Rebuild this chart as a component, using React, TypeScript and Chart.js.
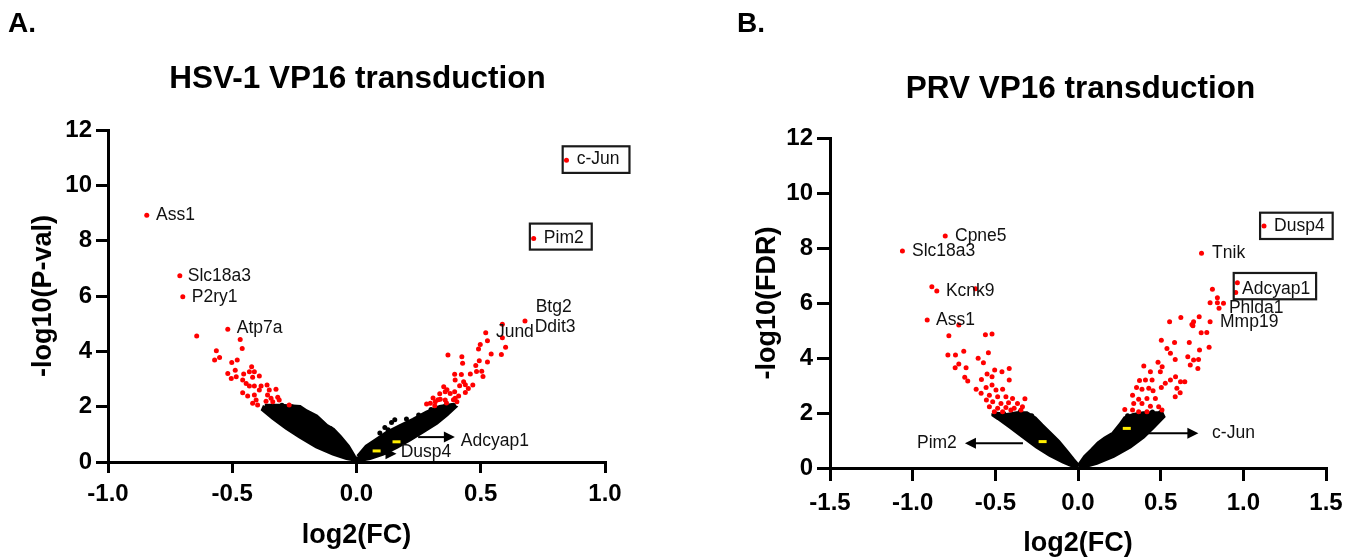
import React, { useEffect, useRef } from "react";
import { Chart, registerables } from "chart.js";
Chart.register(...registerables);

type Pt = [number, number];

// ================= Panel A : HSV-1 VP16 transduction =================
const A_X_TICKS = [-1, -0.5, 0, 0.5, 1];
const A_X_TICK_LABELS = ["-1.0", "-0.5", "0.0", "0.5", "1.0"];
const A_Y_TICKS = [0, 2, 4, 6, 8, 10, 12];

const A_RED: Pt[] = [
  [-0.844, 8.92], [-0.711, 6.73], [-0.699, 5.97], [-0.643, 4.55], [-0.518, 4.8],
  [-0.468, 4.43], [-0.46, 4.1], [-0.564, 4.02], [-0.571, 3.69], [-0.551, 3.78],
  [-0.502, 3.6], [-0.48, 3.69], [-0.422, 3.44], [-0.488, 3.32], [-0.518, 3.2],
  [-0.504, 3.02], [-0.484, 3.08], [-0.454, 3.18], [-0.431, 3.26], [-0.411, 3.26],
  [-0.418, 3.06], [-0.391, 3.11], [-0.458, 2.96], [-0.444, 2.84], [-0.431, 2.75],
  [-0.411, 2.75], [-0.384, 2.75], [-0.36, 2.78], [-0.324, 2.63], [-0.351, 2.6],
  [-0.391, 2.6], [-0.458, 2.5], [-0.438, 2.39], [-0.411, 2.42], [-0.358, 2.42],
  [-0.344, 2.3], [-0.317, 2.34], [-0.404, 2.24], [-0.364, 2.2], [-0.337, 2.18],
  [-0.418, 2.12], [-0.398, 2.06], [-0.271, 2.06], [-0.311, 2.24],
  [0.845, 10.91], [0.713, 8.08], [0.678, 5.1], [0.587, 4.98], [0.52, 4.67],
  [0.527, 4.38], [0.587, 4.49], [0.6, 4.15], [0.583, 3.89], [0.542, 3.9],
  [0.498, 4.25], [0.491, 4.08], [0.368, 3.87], [0.424, 3.8], [0.427, 3.57],
  [0.494, 3.66], [0.527, 3.61], [0.48, 3.49], [0.504, 3.28], [0.458, 3.18],
  [0.395, 3.17], [0.422, 3.16], [0.397, 2.96], [0.431, 2.9], [0.438, 2.79],
  [0.468, 2.78], [0.45, 2.66], [0.415, 2.76], [0.351, 2.72], [0.357, 2.54],
  [0.377, 2.48], [0.395, 2.54], [0.411, 2.39], [0.438, 2.51], [0.397, 2.3],
  [0.337, 2.27], [0.317, 2.18], [0.357, 2.24], [0.404, 2.18], [0.297, 2.12],
  [0.308, 2.31], [0.328, 2.25], [0.282, 2.1], [0.315, 2.03], [0.335, 2.47],
  [0.362, 2.13], [0.39, 2.25], [0.364, 2.61], [0.483, 3.27], [0.509, 3.09],
];

const A_BLACK: Pt[] = [
  [-0.228, 1.95], [-0.168, 1.61], [-0.132, 1.26], [-0.105, 1.21], [-0.08, 0.92],
  [0.094, 1.05], [0.114, 1.25], [0.127, 1.17], [0.141, 1.43], [0.154, 1.53],
  [0.201, 1.55], [-0.35, 2.0], [-0.3, 2.05], [-0.26, 2.0], [0.25, 1.7],
  [0.3, 1.9], [0.36, 2.05], [0.39, 2.05],
];

const A_CLOUD_LEFT: Pt[] = [
  [-0.369, 2.03], [-0.309, 2.03], [-0.255, 2.01], [-0.228, 1.99], [-0.201, 1.83],
  [-0.161, 1.65], [-0.121, 1.31], [-0.094, 1.17], [-0.067, 0.92], [-0.034, 0.56],
  [-0.014, 0.26], [-0.003, 0.08], [-0.04, 0.14], [-0.094, 0.3], [-0.161, 0.56],
  [-0.228, 0.92], [-0.282, 1.23], [-0.336, 1.59], [-0.376, 1.89], [-0.369, 2.03],
];

const A_CLOUD_RIGHT: Pt[] = [
  [0.006, 0.2], [0.04, 0.56], [0.08, 0.8], [0.121, 1.05], [0.174, 1.29],
  [0.228, 1.53], [0.282, 1.79], [0.335, 1.99], [0.382, 2.06], [0.396, 1.99],
  [0.362, 1.71], [0.322, 1.41], [0.268, 1.11], [0.214, 0.81], [0.161, 0.54],
  [0.107, 0.3], [0.054, 0.14], [0.006, 0.06], [0.006, 0.2],
];

const A_YELLOW: Pt[] = [[0.081, 0.4], [0.161, 0.73]];

const A_LABEL_TEXT = ["Ass1", "Slc18a3", "P2ry1", "Atp7a", "c-Jun", "Pim2", "Btg2", "Ddit3", "Jund", "Adcyap1", "Dusp4"];
const A_LABEL_X = [-0.807, -0.679, -0.663, -0.482, 0.886, 0.754, 0.721, 0.717, 0.561, 0.42, 0.178];
const A_LABEL_Y = [8.93, 6.73, 5.97, 4.82, 10.93, 8.1, 5.61, 4.89, 4.68, 0.77, 0.37];

const A_ARROWS: { x0: number; x1: number; y: number }[] = [
  { x0: 0.248, x1: 0.396, y: 0.9 },
  { x0: 0.114, x1: 0.161, y: 0.3 },
];

// ================= Panel B : PRV VP16 transduction =================
const B_X_TICKS = [-1.5, -1, -0.5, 0, 0.5, 1, 1.5];
const B_X_TICK_LABELS = ["-1.5", "-1.0", "-0.5", "0.0", "0.5", "1.0", "1.5"];
const B_Y_TICKS = [0, 2, 4, 6, 8, 10, 12];

const B_RED: Pt[] = [
  [-0.803, 8.44], [-1.062, 7.89], [-0.884, 6.59], [-0.854, 6.44], [-0.62, 6.52],
  [-0.912, 5.38], [-0.721, 5.2], [-0.781, 4.81], [-0.56, 4.85], [-0.52, 4.87],
  [-0.787, 4.11], [-0.741, 4.11], [-0.691, 4.25], [-0.542, 4.19], [-0.604, 3.99],
  [-0.572, 3.83], [-0.721, 3.78], [-0.743, 3.65], [-0.677, 3.65], [-0.504, 3.56],
  [-0.46, 3.5], [-0.416, 3.62], [-0.55, 3.42], [-0.52, 3.32], [-0.685, 3.3],
  [-0.667, 3.16], [-0.584, 3.22], [-0.416, 3.2], [-0.52, 3.02], [-0.556, 2.93],
  [-0.616, 2.86], [-0.496, 2.84], [-0.456, 2.86], [-0.586, 2.72], [-0.536, 2.65],
  [-0.486, 2.59], [-0.436, 2.59], [-0.396, 2.53], [-0.321, 2.52], [-0.554, 2.47],
  [-0.516, 2.41], [-0.466, 2.35], [-0.42, 2.37], [-0.366, 2.35], [-0.536, 2.23],
  [-0.486, 2.17], [-0.436, 2.2], [-0.386, 2.17], [-0.336, 2.23], [-0.506, 2.05],
  [-0.456, 2.05], [-0.406, 2.11], [-0.345, 2.11],
  [1.125, 8.8], [0.747, 7.81], [0.964, 6.74], [0.954, 6.38], [0.813, 6.5],
  [0.843, 6.19], [0.799, 6.01], [0.843, 6.01], [0.88, 5.99], [0.853, 5.81],
  [0.554, 5.32], [0.622, 5.47], [0.699, 5.32], [0.695, 5.17], [0.733, 5.5],
  [0.799, 5.32], [0.504, 4.65], [0.689, 5.22], [0.745, 4.92], [0.779, 4.93],
  [0.584, 4.56], [0.673, 4.56], [0.793, 4.39], [0.538, 4.35], [0.559, 4.17],
  [0.735, 4.29], [0.588, 3.95], [0.664, 4.05], [0.699, 3.93], [0.729, 3.95],
  [0.679, 3.75], [0.725, 3.62], [0.484, 3.85], [0.509, 3.68], [0.398, 3.71],
  [0.438, 3.5], [0.498, 3.5], [0.59, 3.32], [0.62, 3.14], [0.646, 3.14],
  [0.559, 3.2], [0.528, 3.08], [0.504, 2.93], [0.448, 3.2], [0.408, 3.2],
  [0.372, 3.18], [0.354, 2.93], [0.387, 2.86], [0.428, 2.9], [0.454, 2.81],
  [0.598, 2.9], [0.618, 2.74], [0.588, 2.59], [0.33, 2.65], [0.367, 2.5],
  [0.417, 2.53], [0.468, 2.53], [0.337, 2.35], [0.387, 2.35], [0.438, 2.25],
  [0.488, 2.23], [0.283, 2.13], [0.33, 2.11], [0.367, 2.05], [0.417, 2.05],
  [0.508, 2.11],
];

const B_BLACK: Pt[] = [
  [-0.35, 2.05], [-0.45, 1.98], [-0.28, 1.9], [0.3, 1.9], [0.45, 2.04], [0.5, 2.02],
];

const B_CLOUD_LEFT: Pt[] = [
  [-0.512, 1.99], [-0.431, 1.93], [-0.371, 1.99], [-0.31, 1.99], [-0.26, 1.81],
  [-0.22, 1.56], [-0.169, 1.26], [-0.119, 0.96], [-0.068, 0.59], [-0.028, 0.29],
  [-0.002, 0.11], [-0.018, 0.05], [-0.089, 0.23], [-0.169, 0.47], [-0.25, 0.78],
  [-0.331, 1.14], [-0.411, 1.5], [-0.482, 1.81], [-0.512, 1.93], [-0.512, 1.99],
];

const B_CLOUD_RIGHT: Pt[] = [
  [0.008, 0.11], [0.042, 0.41], [0.083, 0.65], [0.123, 0.9], [0.163, 1.08],
  [0.214, 1.26], [0.254, 1.56], [0.284, 1.81], [0.335, 1.93], [0.395, 1.99],
  [0.456, 1.99], [0.506, 1.99], [0.516, 1.87], [0.456, 1.5], [0.395, 1.14],
  [0.315, 0.78], [0.214, 0.44], [0.113, 0.19], [0.032, 0.05], [0.008, 0.11],
];

const B_YELLOW: Pt[] = [[-0.214, 0.96], [0.295, 1.44]];

const B_LABEL_TEXT = ["Cpne5", "Slc18a3", "Kcnk9", "Ass1", "Dusp4", "Tnik", "Adcyap1", "Phlda1", "Mmp19", "Pim2", "c-Jun"];
const B_LABEL_X = [-0.744, -1.004, -0.799, -0.859, 1.186, 0.811, 0.992, 0.913, 0.859, -0.974, 0.811];
const B_LABEL_Y = [8.44, 7.89, 6.44, 5.38, 8.8, 7.82, 6.51, 5.82, 5.31, 0.91, 1.27];

const B_ARROWS: { x0: number; x1: number; y: number }[] = [
  { x0: -0.333, x1: -0.684, y: 0.9 },
  { x0: 0.416, x1: 0.728, y: 1.26 },
];

// ================= styling / layout =================
const FONT = '"Liberation Sans", Arial, Helvetica, sans-serif';

type BoxStyle = { padL: number; padR: number; top: number; bottom: number };

interface PanelData {
  letter: string;
  title: string;
  yTitle: string;
  xMin: number;
  xMax: number;
  xTicks: number[];
  xTickLabels: string[];
  yTicks: number[];
  red: Pt[];
  black: Pt[];
  clouds: Pt[][];
  yellow: Pt[];
  labelText: string[];
  labelX: number[];
  labelY: number[];
  arrows: { x0: number; x1: number; y: number }[];
}

interface PanelLayout {
  offsetX: number;
  padR: number;
  padT: number;
  yAxisW: number;
  xAxisH: number;
  xTickLen: number;
  xTickPad: number;
  yTickLen: number;
  yTickPad: number;
  yTitlePad: number;
  xTitlePad: number;
  titleX: number;
  titleBase: number;
  letterX: number;
  boxes: Record<string, BoxStyle>;
}

const PANEL_A: PanelData = {
  letter: "A.",
  title: "HSV-1 VP16 transduction",
  yTitle: "-log10(P-val)",
  xMin: -1,
  xMax: 1,
  xTicks: A_X_TICKS,
  xTickLabels: A_X_TICK_LABELS,
  yTicks: A_Y_TICKS,
  red: A_RED,
  black: A_BLACK,
  clouds: [A_CLOUD_LEFT, A_CLOUD_RIGHT],
  yellow: A_YELLOW,
  labelText: A_LABEL_TEXT,
  labelX: A_LABEL_X,
  labelY: A_LABEL_Y,
  arrows: A_ARROWS,
};

const PANEL_B: PanelData = {
  letter: "B.",
  title: "PRV VP16 transduction",
  yTitle: "-log10(FDR)",
  xMin: -1.5,
  xMax: 1.5,
  xTicks: B_X_TICKS,
  xTickLabels: B_X_TICK_LABELS,
  yTicks: B_Y_TICKS,
  red: B_RED,
  black: B_BLACK,
  clouds: [B_CLOUD_LEFT, B_CLOUD_RIGHT],
  yellow: B_YELLOW,
  labelText: B_LABEL_TEXT,
  labelX: B_LABEL_X,
  labelY: B_LABEL_Y,
  arrows: B_ARROWS,
};

const W = 679;
const H = 557;

const LAYOUT_A: PanelLayout = {
  offsetX: 0,
  padR: W - 605,
  padT: 130,
  yAxisW: 108,
  xAxisH: H - 462,
  xTickLen: 11,
  xTickPad: 7,
  yTickLen: 12,
  yTickPad: 4,
  yTitlePad: 30.5,
  xTitlePad: 8,
  titleX: 357.5,
  titleBase: 88,
  letterX: 8,
  boxes: {
    "c-Jun": { padL: 14, padR: 10, top: -13.3, bottom: 13.3 },
    Pim2: { padL: 14, padR: 8, top: -14.3, bottom: 11.7 },
  },
};

const LAYOUT_B: PanelLayout = {
  offsetX: 679,
  padR: W - 647,
  padT: 138,
  yAxisW: 151,
  xAxisH: H - 468,
  xTickLen: 13,
  xTickPad: 8.3,
  yTickLen: 13,
  yTickPad: 4,
  yTitlePad: 75.5,
  xTitlePad: 0,
  titleX: 401.5,
  titleBase: 98,
  letterX: 58,
  boxes: {
    Dusp4: { padL: 14, padR: 8, top: -13.3, bottom: 13 },
    Adcyap1: { padL: 8.3, padR: 6, top: -16, bottom: 10.3 },
  },
};

const toXY = (arr: Pt[]) => arr.map(([x, y]) => ({ x, y }));

function annotationPlugin(p: PanelData, lay: PanelLayout) {
  return {
    id: "annotations" + p.letter,
    afterDatasetsDraw(chart: any) {
      const ctx = chart.ctx as CanvasRenderingContext2D;
      const xs = chart.scales.x;
      const ys = chart.scales.y;
      ctx.save();
      ctx.strokeStyle = "#000";
      ctx.fillStyle = "#000";
      ctx.lineWidth = 2;
      for (const a of p.arrows) {
        const x0 = xs.getPixelForValue(a.x0);
        const x1 = xs.getPixelForValue(a.x1);
        const y = ys.getPixelForValue(a.y);
        const dir = Math.sign(x1 - x0);
        ctx.beginPath();
        ctx.moveTo(x0, y);
        ctx.lineTo(x1 - dir * 8, y);
        ctx.stroke();
        ctx.beginPath();
        ctx.moveTo(x1, y);
        ctx.lineTo(x1 - dir * 11, y - 5.5);
        ctx.lineTo(x1 - dir * 11, y + 5.5);
        ctx.closePath();
        ctx.fill();
      }
      ctx.font = `17.5px ${FONT}`;
      ctx.textBaseline = "middle";
      ctx.textAlign = "left";
      p.labelText.forEach((t, i) => {
        const px = xs.getPixelForValue(p.labelX[i]);
        const py = ys.getPixelForValue(p.labelY[i]);
        ctx.fillStyle = "#111";
        ctx.fillText(t, px, py);
        const b = lay.boxes[t];
        if (b) {
          const w = ctx.measureText(t).width;
          ctx.strokeStyle = "#1a1a1a";
          ctx.lineWidth = 2.2;
          ctx.strokeRect(px - b.padL, py + b.top, w + b.padL + b.padR, b.bottom - b.top);
        }
      });
      ctx.restore();
    },
    afterDraw(chart: any) {
      const ctx = chart.ctx as CanvasRenderingContext2D;
      ctx.save();
      ctx.fillStyle = "#000";
      ctx.textBaseline = "alphabetic";
      ctx.textAlign = "center";
      ctx.font = `bold 31.5px ${FONT}`;
      ctx.fillText(p.title, lay.titleX, lay.titleBase);
      ctx.textAlign = "left";
      ctx.font = `bold 28px ${FONT}`;
      ctx.fillText(p.letter, lay.letterX, 32);
      ctx.restore();
    },
  };
}

function makeConfig(p: PanelData, lay: PanelLayout): any {
  const tickFont = { family: FONT, size: 24, weight: "bold" as const };
  const titleFont = { family: FONT, size: 27, weight: "bold" as const, lineHeight: 1 };
  return {
    type: "scatter",
    data: {
      datasets: [
        {
          label: "highlighted",
          data: toXY(p.yellow),
          pointStyle: "line",
          pointRadius: 4,
          borderColor: "#ffee00",
          backgroundColor: "#ffee00",
          borderWidth: 3,
          order: 0,
        },
        {
          label: "significant",
          data: toXY(p.red),
          pointRadius: 2.5,
          backgroundColor: "#ff0000",
          borderWidth: 0,
          order: 1,
        },
        {
          label: "not significant",
          data: toXY(p.black),
          pointRadius: 2.5,
          backgroundColor: "#000",
          borderWidth: 0,
          order: 2,
        },
        ...p.clouds.map((c, i) => ({
          type: "line",
          label: "cloud" + i,
          data: toXY(c),
          fill: "shape",
          backgroundColor: "#000",
          borderColor: "#000",
          borderWidth: 4,
          pointRadius: 0,
          tension: 0,
          order: 3,
        })),
      ],
    },
    options: {
      responsive: false,
      animation: false,
      devicePixelRatio: 1,
      events: [],
      layout: { padding: { left: 0, right: lay.padR, top: lay.padT, bottom: 0 } },
      plugins: {
        legend: { display: false },
        tooltip: { enabled: false },
        title: { display: false },
      },
      scales: {
        x: {
          type: "linear",
          min: p.xMin,
          max: p.xMax,
          afterBuildTicks: (s: any) => {
            s.ticks = p.xTicks.map((v) => ({ value: v }));
          },
          afterFit: (s: any) => {
            s.height = lay.xAxisH;
          },
          ticks: {
            callback: (_v: any, i: number) => p.xTickLabels[i],
            font: tickFont,
            color: "#000",
            padding: lay.xTickPad,
            autoSkip: false,
            maxRotation: 0,
          },
          grid: {
            drawOnChartArea: false,
            drawTicks: true,
            tickLength: lay.xTickLen,
            lineWidth: 3,
            color: "#000",
          },
          border: { display: true, width: 3, color: "#000" },
          title: {
            display: true,
            text: "log2(FC)",
            font: titleFont,
            color: "#000",
            padding: { top: 0, bottom: lay.xTitlePad },
          },
        },
        y: {
          type: "linear",
          min: 0,
          max: 12,
          afterBuildTicks: (s: any) => {
            s.ticks = p.yTicks.map((v) => ({ value: v }));
          },
          afterFit: (s: any) => {
            s.width = lay.yAxisW;
          },
          ticks: {
            callback: (v: any) => String(v),
            font: tickFont,
            color: "#000",
            padding: lay.yTickPad,
            autoSkip: false,
          },
          grid: {
            drawOnChartArea: false,
            drawTicks: true,
            tickLength: lay.yTickLen,
            lineWidth: 3,
            color: "#000",
          },
          border: { display: true, width: 3, color: "#000" },
          title: {
            display: true,
            text: p.yTitle,
            font: titleFont,
            color: "#000",
            padding: { top: lay.yTitlePad, bottom: 0 },
          },
        },
      },
    },
    plugins: [annotationPlugin(p, lay)],
  };
}

export default function App() {
  const refA = useRef<HTMLCanvasElement | null>(null);
  const refB = useRef<HTMLCanvasElement | null>(null);

  useEffect(() => {
    const charts: Chart[] = [];
    if (refA.current) charts.push(new Chart(refA.current, makeConfig(PANEL_A, LAYOUT_A)));
    if (refB.current) charts.push(new Chart(refB.current, makeConfig(PANEL_B, LAYOUT_B)));
    return () => charts.forEach((c) => c.destroy());
  }, []);

  return (
    <div
      style={{
        position: "fixed",
        left: 0,
        top: 0,
        width: 1358,
        height: 557,
        background: "#fff",
        overflow: "hidden",
      }}
    >
      <canvas
        ref={refA}
        width={W}
        height={H}
        style={{ position: "absolute", left: LAYOUT_A.offsetX, top: 0, width: W, height: H }}
      />
      <canvas
        ref={refB}
        width={W}
        height={H}
        style={{ position: "absolute", left: LAYOUT_B.offsetX, top: 0, width: W, height: H }}
      />
    </div>
  );
}
